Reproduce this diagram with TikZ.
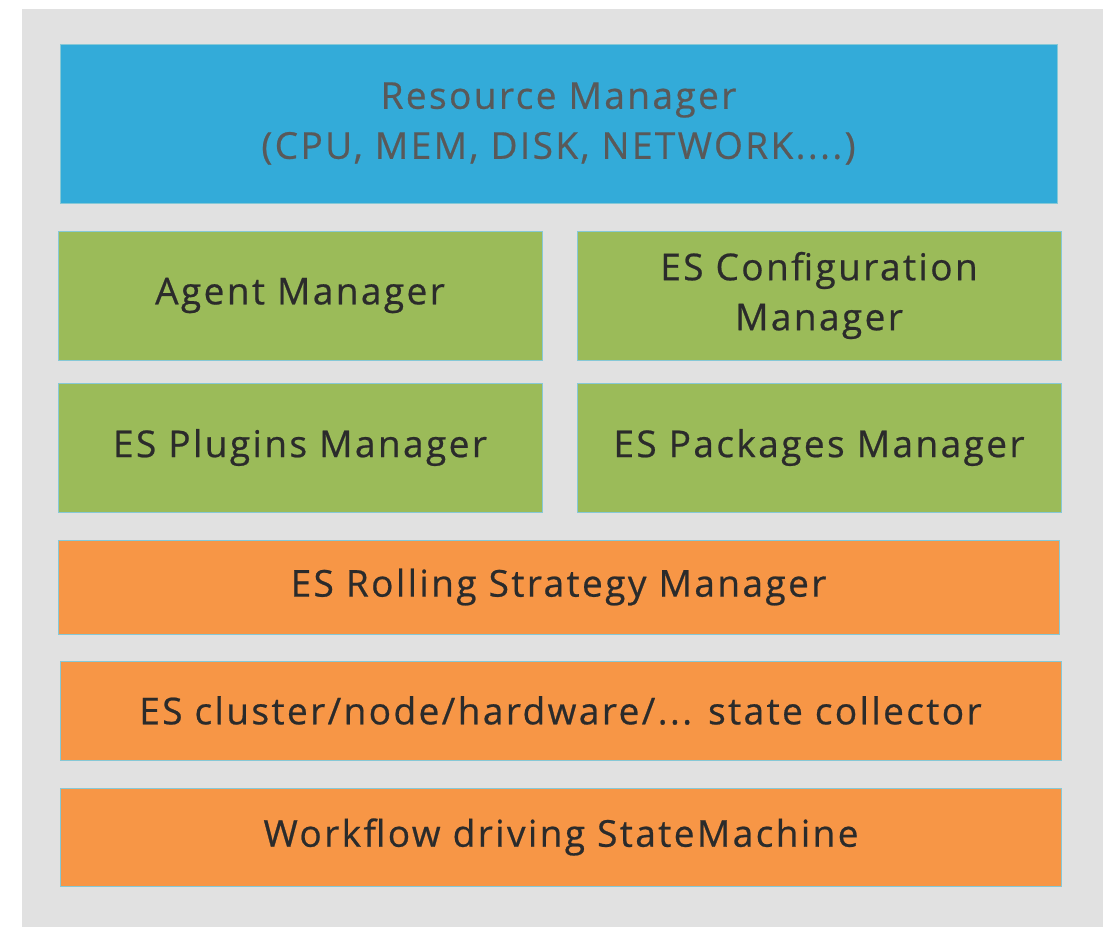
\documentclass[tikz,border=0pt]{standalone}
\usepackage{fontspec}
\setmainfont[LetterSpace=6.5,FakeBold=0.6]{Open Sans}
\usepackage{xcolor}
\definecolor{resblue}{HTML}{33ABD9}
\definecolor{mgrgreen}{HTML}{9BBB59}
\definecolor{esorange}{HTML}{F79646}
\definecolor{panelgray}{HTML}{E1E1E1}
\definecolor{edgeteal}{HTML}{86C8D6}
\definecolor{txtdark}{HTML}{2B2B2B}
\usetikzlibrary{positioning}

\tikzset{
  layer/.style={draw=edgeteal, line width=0.8pt, align=center, inner sep=0pt,
    text=txtdark, font=\fontsize{37}{50}\selectfont},
  halfbox/.style={layer, fill=mgrgreen, minimum width=484pt, minimum height=129pt},
  widebox/.style={layer, fill=esorange, minimum width=1001pt},
}

\begin{document}
\begin{tikzpicture}[x=1pt, y=-1pt]
  \useasboundingbox (0,0) rectangle (1119,927);

  % panel
  \fill[panelgray] (22,9) rectangle (1103,927);

  % top layer
  \node[layer, fill=resblue, text=black!65, minimum width=997pt, minimum height=159pt]
    (res) at (558.5,123.5) {Resource Manager\\(CPU, MEM, DISK, NETWORK....)};

  % managers
  \node[halfbox] (agent) at (300,295.5) {Agent Manager};
  \node[halfbox] (conf) at (819,295.5) {ES Configuration\\Manager};
  \node[halfbox] (plugins) at (300,447.5) {ES Plugins Manager};
  \node[halfbox] (pkgs) at (819,447.5) {ES Packages Manager};

  % bottom layers
  \node[widebox, minimum height=94pt] (rolling) at (558.5,587) {ES Rolling Strategy Manager};
  \node[widebox, minimum height=99pt] (collector) at (560.5,710.5) {ES cluster/node/hardware/... state collector};
  \node[widebox, minimum height=98pt] (workflow) at (561,837) {Workflow driving StateMachine};
\end{tikzpicture}
\end{document}
